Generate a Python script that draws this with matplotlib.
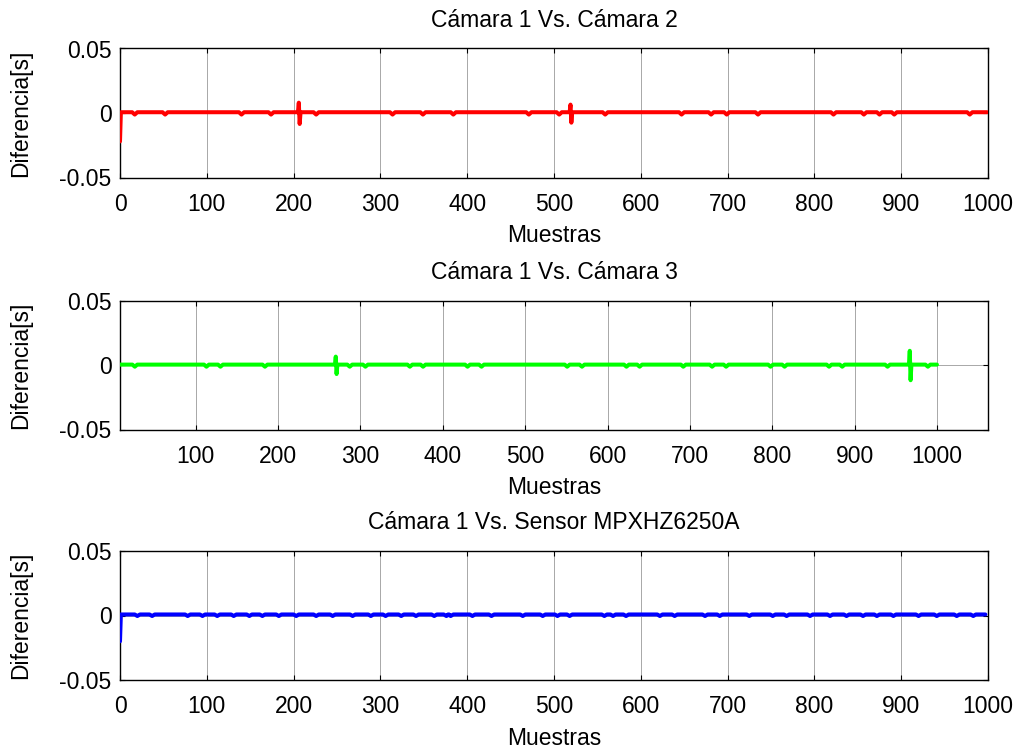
import matplotlib
matplotlib.use("Agg")
import matplotlib.pyplot as plt
import numpy as np

plt.rcParams['font.family'] = ['Liberation Sans', 'DejaVu Sans']

# ---- data ----
titles = ["Cámara 1 Vs. Cámara 2", "Cámara 1 Vs. Cámara 3", "Cámara 1 Vs. Sensor MPXHZ6250A"]
colors = ["#ff0000", "#00ff00", "#0000ff"]
xlims = [(0, 1000), (8, 1062), (0, 1000)]
xticks_list = [list(range(0, 1001, 100)), list(range(100, 1001, 100)), list(range(0, 1001, 100))]
yticks = [-0.05, 0, 0.05]
ytick_labels = ["-0.05", "0", "0.05"]

# series 1 (red)
red_start = (0, -0.022)
red_end = 999
red_base = 0.0006
red_dip = -0.0012
red_dips = [17, 52, 140, 174, 226, 314, 349, 384, 471, 506, 559, 647, 681, 699, 735,
            822, 857, 875, 892, 979]
red_spikes = [(206, 0.008, -0.0085), (519, 0.0065, -0.0075)]

# series 2 (green)
green_start = (8, 0.0003)
green_end = 1000
green_base = 0.0003
green_dip = -0.0013
green_dips = [26, 113, 130, 184, 287, 306, 360, 376, 430, 447, 551, 569, 623, 639, 692,
              727, 744, 798, 815, 869, 885, 940, 989]
green_spikes = [(270, 0.0065, -0.0070), (967, 0.011, -0.0118)]

# series 3 (blue)
blue_start = (0, -0.020)
blue_end = 997
blue_base = 0.0008
blue_dip = -0.0004
blue_dips = [20, 37, 78, 95, 112, 131, 149, 164, 183, 203, 226, 245, 268, 289, 306,
             324, 341, 362, 376, 381, 406, 428, 464, 487, 504, 518, 558, 568, 583, 622,
             639, 674, 691, 725, 752, 768, 795, 818, 837, 856, 872, 891, 920, 941, 964, 983]
blue_spikes = []


def build(start, end, base, dip, dips, spikes):
    pts = [start, (start[0] + 1, base)]
    events = [(d, "d", None) for d in dips] + [(s[0], "s", s) for s in spikes]
    for pos, kind, s in sorted(events):
        if kind == "d":
            pts += [(pos - 3, base), (pos, dip), (pos + 3, base)]
        else:
            pts += [(pos - 1, base), (pos, s[1]), (pos + 1, s[2]), (pos + 2, base)]
    pts.append((end, base))
    xs, ys = zip(*pts)
    return np.array(xs), np.array(ys)


series = [
    build(red_start, red_end, red_base, red_dip, red_dips, red_spikes),
    build(green_start, green_end, green_base, green_dip, green_dips, green_spikes),
    build(blue_start, blue_end, blue_base, blue_dip, blue_dips, blue_spikes),
]

W, H = 1021, 751
fig = plt.figure(figsize=(W / 100, H / 100), dpi=100)
fig.patch.set_facecolor("white")

left = 120 / W
width = 868 / W
height = 129 / H
bottoms = [1 - 177.5 / H, 1 - 429.5 / H, 1 - 680 / H]

fs = 16.5
for i in range(3):
    ax = fig.add_axes([left, bottoms[i], width, height])
    x, y = series[i]
    ax.plot(x, y, color=colors[i], lw=2.9, solid_joinstyle="round",
            solid_capstyle="round", zorder=3)
    ax.set_xlim(*xlims[i])
    ax.set_ylim(-0.05, 0.05)
    ax.set_xticks(xticks_list[i])
    ax.set_xticklabels([str(t) for t in xticks_list[i]])
    ax.set_yticks(yticks)
    ax.set_yticklabels(ytick_labels)
    ax.grid(True, color="#a8a8a8", lw=0.7, ls="-", zorder=0)
    ax.set_axisbelow(True)
    ax.tick_params(direction="in", length=3.5, width=0.8, top=True, right=True,
                   labelsize=fs, colors="black")
    ax.tick_params(axis="x", pad=11)
    ax.tick_params(axis="y", pad=6)
    for sp in ax.spines.values():
        sp.set_linewidth(1.0)
        sp.set_color("black")
    ax.set_title(titles[i], fontsize=fs, pad=15.5)
    ax.set_xlabel("Muestras", fontsize=fs, labelpad=6)
    ax.set_ylabel("Diferencia[s]", fontsize=fs, labelpad=20)

fig.savefig("out.png", dpi=100, facecolor="white")
